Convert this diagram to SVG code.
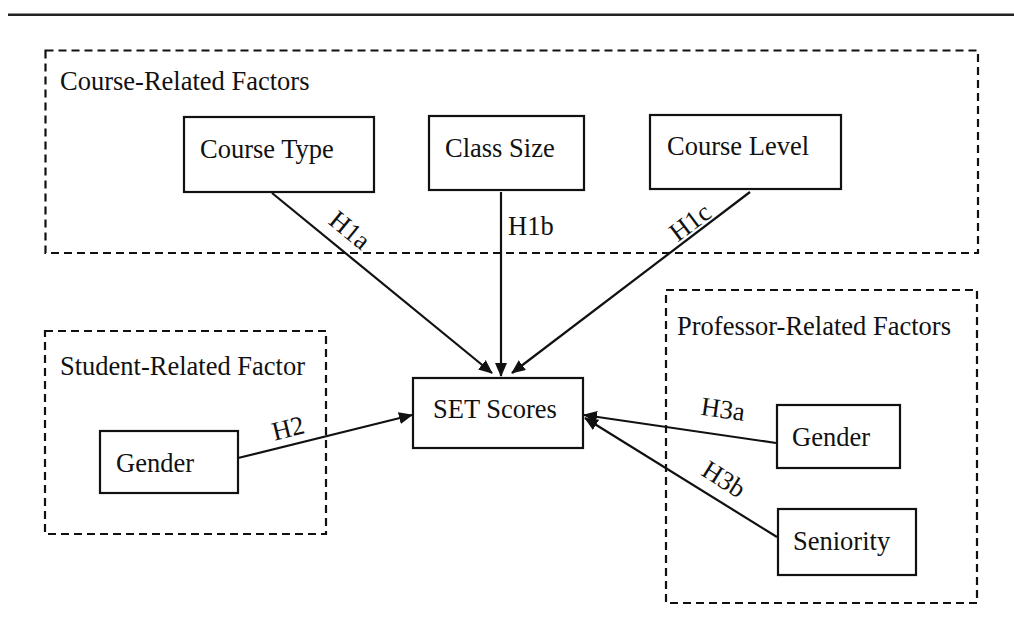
<svg xmlns="http://www.w3.org/2000/svg" width="1014" height="632" viewBox="0 0 1014 632">
<defs>
<style>
.t{font-family:"Liberation Serif","Times New Roman",serif;font-size:26.5px;fill:#111}
.box{fill:#fff;stroke:#111;stroke-width:2.2}
.grp{fill:none;stroke:#111;stroke-width:2.2;stroke-dasharray:8,5}
.con{fill:none;stroke:#111;stroke-width:2.2}
</style>
<marker id="ah" markerUnits="userSpaceOnUse" markerWidth="16" markerHeight="14" refX="13" refY="6" orient="auto">
<path d="M0,0 L14,6 L0,12 z" fill="#111"/>
</marker>
</defs>
<rect width="1014" height="632" fill="#fff"/>
<line x1="8" y1="14.7" x2="1014" y2="14.7" stroke="#222" stroke-width="2.6"/>

<g id="course-group">
<rect class="grp" x="45.5" y="50.5" width="932.5" height="202.5"/>
<text class="t" x="60" y="90">Course-Related Factors</text>
</g>
<g id="student-group">
<rect class="grp" x="45" y="331" width="281" height="203"/>
<text class="t" x="60" y="375">Student-Related Factor</text>
</g>
<g id="professor-group">
<rect class="grp" x="666" y="290" width="311" height="313"/>
<text class="t" x="677" y="335">Professor-Related Factors</text>
</g>

<g id="connectors">
<line class="con" x1="272" y1="193" x2="492" y2="373" marker-end="url(#ah)"/>
<line class="con" x1="501" y1="192" x2="501" y2="376" marker-end="url(#ah)"/>
<line class="con" x1="750" y1="192" x2="512" y2="373" marker-end="url(#ah)"/>
<line class="con" x1="238" y1="458" x2="412" y2="415" marker-end="url(#ah)"/>
<line class="con" x1="776" y1="443" x2="584" y2="415" marker-end="url(#ah)"/>
<line class="con" x1="777" y1="537" x2="585" y2="418" marker-end="url(#ah)"/>
<text class="t" transform="translate(350,230) rotate(39)" text-anchor="middle" y="9">H1a</text>
<text class="t" x="508" y="235">H1b</text>
<text class="t" transform="translate(690,222) rotate(-37)" text-anchor="middle" y="9">H1c</text>
<text class="t" transform="translate(288,428) rotate(-14)" text-anchor="middle" y="9">H2</text>
<text class="t" transform="translate(723,409) rotate(8)" text-anchor="middle" y="9">H3a</text>
<text class="t" transform="translate(724,479) rotate(32)" text-anchor="middle" y="9">H3b</text>
</g>

<g id="course-type">
<rect class="box" x="184" y="117" width="190" height="75"/>
<text class="t" x="200" y="158">Course Type</text>
</g>
<g id="class-size">
<rect class="box" x="429" y="116" width="155" height="74"/>
<text class="t" x="445" y="157">Class Size</text>
</g>
<g id="course-level">
<rect class="box" x="650" y="115" width="191" height="74"/>
<text class="t" x="667" y="155">Course Level</text>
</g>
<g id="set-scores">
<rect class="box" x="413" y="378" width="170" height="70"/>
<text class="t" x="433" y="418">SET Scores</text>
</g>
<g id="student-gender">
<rect class="box" x="100" y="431" width="138" height="62"/>
<text class="t" x="116" y="472">Gender</text>
</g>
<g id="prof-gender">
<rect class="box" x="777" y="405" width="123" height="63"/>
<text class="t" x="792" y="446">Gender</text>
</g>
<g id="seniority">
<rect class="box" x="778" y="509" width="138" height="66"/>
<text class="t" x="793" y="550">Seniority</text>
</g>
</svg>
